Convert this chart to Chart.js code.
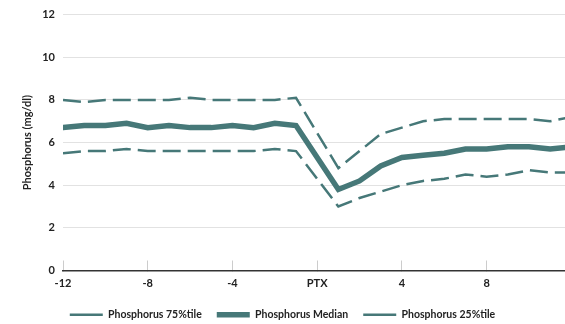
<!DOCTYPE html>
<html>
<head>
<meta charset="utf-8">
<script src="https://cdn.jsdelivr.net/npm/chart.js@4"></script>
<style>
  html, body { margin: 0; padding: 0; background: #fff; }
  #wrap { width: 565px; height: 324px; position: relative; }
</style>
</head>
<body>
<div id="wrap"><canvas id="phos-chart"></canvas></div>
<script>
// Months relative to PTX (0 = PTX, no reading at 0)
const months = [-12, -11, -10, -9, -8, -7, -6, -5, -4, -3, -2, -1, 1, 2, 3, 4, 5, 6, 7, 8, 9, 10, 11, 12];
const p75 = [8.0, 7.9, 8.0, 8.0, 8.0, 8.0, 8.1, 8.0, 8.0, 8.0, 8.0, 8.1, 4.8, 5.6, 6.4, 6.7, 7.0, 7.1, 7.1, 7.1, 7.1, 7.1, 7.0, 7.2];
const median = [6.7, 6.8, 6.8, 6.9, 6.7, 6.8, 6.7, 6.7, 6.8, 6.7, 6.9, 6.8, 3.8, 4.2, 4.9, 5.3, 5.4, 5.5, 5.7, 5.7, 5.8, 5.8, 5.7, 5.8];
const p25 = [5.5, 5.6, 5.6, 5.7, 5.6, 5.6, 5.6, 5.6, 5.6, 5.6, 5.7, 5.6, 3.0, 3.4, 3.7, 4.0, 4.2, 4.3, 4.5, 4.4, 4.5, 4.7, 4.6, 4.6];
const yTicks = [0, 2, 4, 6, 8, 10, 12];

const teal = '#467878';
const font = { family: 'Lato', size: 11, weight: 'bold' };

function pts(vals) {
  return months.map((m, i) => ({ x: m, y: vals[i] }));
}

new Chart(document.getElementById('phos-chart'), {
  type: 'line',
  data: {
    datasets: [
      {
        label: 'Phosphorus 75%tile',
        data: pts(p75),
        borderColor: teal,
        borderWidth: 2.5,
        borderDash: [18, 7],
        pointRadius: 0,
        tension: 0
      },
      {
        label: 'Phosphorus Median',
        data: pts(median),
        borderColor: teal,
        borderWidth: 5.5,
        borderCapStyle: 'round',
        pointRadius: 0,
        tension: 0
      },
      {
        label: 'Phosphorus 25%tile',
        data: pts(p25),
        borderColor: teal,
        borderWidth: 2.5,
        borderDash: [18, 7],
        pointRadius: 0,
        tension: 0
      }
    ]
  },
  options: {
    responsive: true,
    maintainAspectRatio: false,
    animation: false,
    layout: { padding: { top: 8, right: 0, left: 0, bottom: -6 } },
    plugins: {
      tooltip: { enabled: false },
      legend: {
        position: 'bottom',
        labels: {
          usePointStyle: true,
          pointStyle: 'line',
          pointStyleWidth: 33,
          boxHeight: 10,
          padding: 15,
          color: '#222',
          font: { family: 'Lato', size: 10.5, weight: 'bold' },
          generateLabels: chart => {
            const items = Chart.defaults.plugins.legend.labels.generateLabels(chart);
            items.forEach(it => {
              if (it.lineDash && it.lineDash.length) it.lineDash = [11, 4];
            });
            return items;
          }
        }
      }
    },
    scales: {
      x: {
        type: 'linear',
        min: -12,
        max: 11.7,
        afterFit: s => { s.height = 24; },
        border: { color: '#333', width: 1.5 },
        grid: { drawOnChartArea: false, drawTicks: true, tickLength: -10, color: '#ccc' },
        ticks: {
          stepSize: 4,
          includeBounds: false,
          padding: 16,
          maxRotation: 0,
          color: '#222',
          font: font,
          callback: v => v === 0 ? 'PTX' : v
        }
      },
      y: {
        min: 0,
        max: 12,
        afterFit: s => { s.width = 63; },
        border: { display: false },
        grid: { color: '#e2e2e2', drawTicks: false },
        ticks: {
          stepSize: 2,
          padding: 8,
          color: '#222',
          font: font,
          callback: v => yTicks.includes(v) ? v : ''
        },
        title: {
          display: true,
          text: 'Phosphorus (mg/dl)',
          color: '#222',
          font: font,
          padding: { top: 21, bottom: 0 }
        }
      }
    }
  }
});
</script>
</body>
</html>
